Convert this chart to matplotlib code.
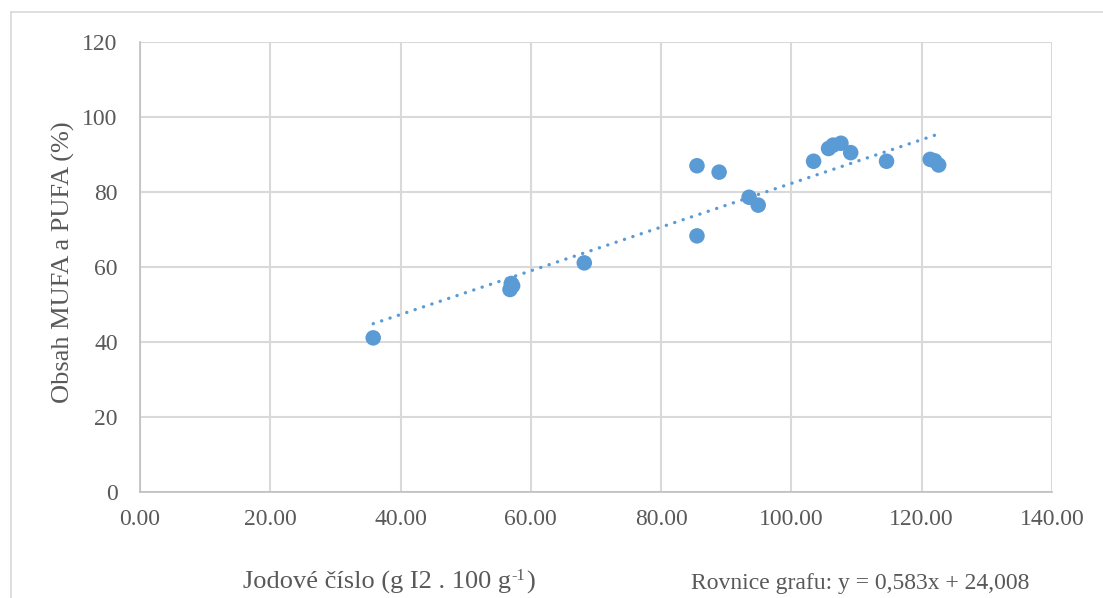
import numpy as np
import matplotlib
matplotlib.use("Agg")
import matplotlib.pyplot as plt
from matplotlib.lines import Line2D

# Data
iodine_number = [35.8, 57.0, 56.8, 57.2, 68.2, 85.5, 85.5, 88.9, 93.5, 94.9,
                 103.4, 105.7, 106.4, 107.6, 109.1, 114.6, 121.3, 122.0, 122.6]
mufa_pufa = [41.1, 55.6, 54.0, 55.0, 61.1, 87.0, 68.3, 85.3, 78.6, 76.5,
             88.2, 91.6, 92.5, 93.0, 90.5, 88.2, 88.7, 88.3, 87.2]
trend_slope = 0.583
trend_intercept = 24.008
x_ticks = [0, 20, 40, 60, 80, 100, 120, 140]
y_ticks = [0, 20, 40, 60, 80, 100, 120]

plt.rcParams['font.family'] = ['Liberation Serif', 'DejaVu Serif']

fig = plt.figure(figsize=(11.03, 5.98), dpi=100)
W, H = 1103, 598
ax = fig.add_axes([140 / W, 1 - 492 / H, (1052 - 140) / W, (492 - 42) / H])

blue = '#5B9BD5'
grid_c = '#d9d9d9'
text_c = '#595959'
FS = 17
TS = 19

ax.set_xlim(0, 140)
ax.set_ylim(0, 120)
ax.set_xticks(x_ticks)
ax.set_yticks(y_ticks)
ax.set_xticklabels([f"{v:.2f}" for v in x_ticks])
ax.grid(True, color=grid_c, linewidth=1.5)
ax.set_axisbelow(True)
for s in ['top', 'right']:
    ax.spines[s].set_visible(False)
for s in ['left', 'bottom']:
    ax.spines[s].set_color('#bfbfbf')
    ax.spines[s].set_linewidth(1.2)
ax.tick_params(length=0, labelsize=FS, colors=text_c)
ax.tick_params(axis='x', pad=12)
ax.tick_params(axis='y', pad=16)

xs = np.array(iodine_number)
xline = np.array([xs.min(), xs.max()])
ax.plot(xline, trend_slope * xline + trend_intercept, color=blue,
        linewidth=2.4, linestyle=(0, (0.05, 2.6)), dash_capstyle='round', zorder=2)

ax.scatter(iodine_number, mufa_pufa, s=125, color=blue, edgecolors='none', zorder=3)

fig.text(63 / W, 1 - 262 / H, 'Obsah MUFA a PUFA (%)', rotation=90,
         fontsize=TS, color=text_c, ha='center', va='center')

# x-axis title composed of pieces to get a plain-hyphen superscript
fig.canvas.draw()
renderer = fig.canvas.get_renderer()
base_y = 1 - 589 / H
t1 = fig.text(243 / W, base_y, 'Jodové číslo (g I2 . 100 g', fontsize=TS,
              color=text_c, ha='left', va='baseline')
bb1 = t1.get_window_extent(renderer)
t2 = fig.text(bb1.x1 / W + 0.5 / W, base_y + 9 / H, '-1', fontsize=TS * 0.62,
              color=text_c, ha='left', va='baseline')
bb2 = t2.get_window_extent(renderer)
fig.text(bb2.x1 / W + 0.5 / W, base_y, ')', fontsize=TS,
         color=text_c, ha='left', va='baseline')

fig.text(691 / W, base_y, 'Rovnice grafu: y = 0,583x + 24,008',
         fontsize=FS, color=text_c, ha='left', va='baseline')

# outer chart frame (partially cropped)
fig.add_artist(Line2D([11 / W, 11 / W], [0, 1 - 12 / H], transform=fig.transFigure,
                      color=grid_c, linewidth=1.2))
fig.add_artist(Line2D([11 / W, 1], [1 - 12 / H, 1 - 12 / H], transform=fig.transFigure,
                      color=grid_c, linewidth=1.2))

fig.savefig('out.png', dpi=100)
